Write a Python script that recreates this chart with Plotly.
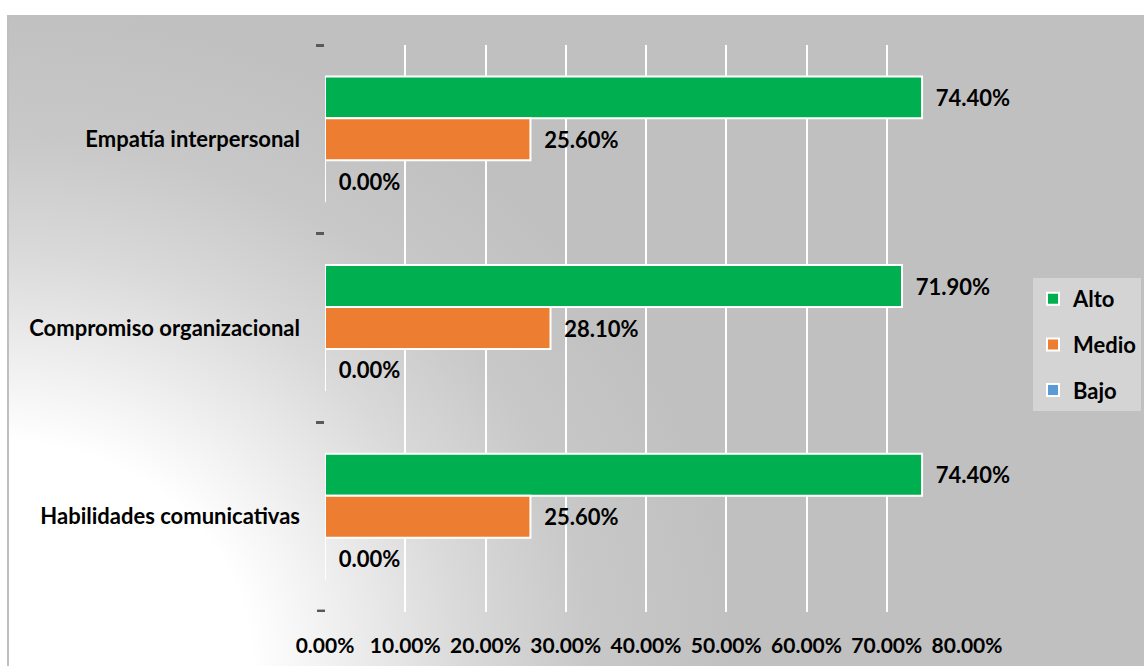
import base64
import plotly.graph_objects as go

# Dimension categories (top to bottom) and level percentages
categories = ["Empatía interpersonal", "Compromiso organizacional", "Habilidades comunicativas"]
alto = [74.40, 71.90, 74.40]
medio = [25.60, 28.10, 25.60]
bajo = [0.00, 0.00, 0.00]
x_ticks = [0, 10, 20, 30, 40, 50, 60, 70, 80]

series = [("Alto", alto, "#00B050"), ("Medio", medio, "#ED7D31"), ("Bajo", bajo, "#5B9BD5")]

W, H = 1144, 666
ML, MR, MT, MB = 325, 177, 45, 54
PW, PH = W - ML - MR, H - MT - MB

FONT = "Lato"
FS = 22
TICK_COLOR = "#595959"

fig = go.Figure()
for name, vals, color in series:
    fig.add_trace(go.Bar(
        y=categories,
        x=vals,
        name=name,
        orientation="h",
        legendgroup=name,
        marker=dict(color=color, line=dict(color="white", width=2)),
        text=["\u00a0\u00a0" + f"{v:.2f}%" for v in vals],
        textposition="outside",
        textfont=dict(family=FONT, size=FS, color="black", weight="bold"),
        cliponaxis=False,
        hoverinfo="skip",
    ))

# Chart area background: soft radial fade from the lower-left corner
bg_w, bg_h = W - 7, H - 15
svg = f"""<svg xmlns="http://www.w3.org/2000/svg" width="{bg_w}" height="{bg_h}" viewBox="0 0 {bg_w} {bg_h}">
<defs>
<radialGradient id="g" gradientUnits="userSpaceOnUse" cx="0" cy="0" r="660"
 gradientTransform="translate(-7,{bg_h}) scale(1.12,1)">
<stop offset="0" stop-color="#FFFFFF"/>
<stop offset="0.34" stop-color="#FFFFFF"/>
<stop offset="0.5" stop-color="#EAEAEA"/>
<stop offset="0.63" stop-color="#D9D9D9"/>
<stop offset="0.8" stop-color="#C8C8C8"/>
<stop offset="1" stop-color="#C0C0C0"/>
</radialGradient>
</defs>
<rect x="1" y="1" width="{bg_w + 4}" height="{bg_h + 4}" fill="url(#g)" stroke="#BFBFBF" stroke-width="2"/>
</svg>"""
src = "data:image/svg+xml;base64," + base64.b64encode(svg.encode()).decode()

fig.add_layout_image(dict(
    source=src,
    xref="paper", yref="paper",
    x=(7 - ML) / PW, y=(H - MB - 15) / PH,
    sizex=bg_w / PW, sizey=bg_h / PH,
    xanchor="left", yanchor="top",
    sizing="stretch", layer="below",
))

# Closing category-boundary tick below the last group
fig.add_shape(
    type="line", xref="paper", yref="y",
    x0=-8 / PW, x1=0, y0=len(categories) - 0.5, y1=len(categories) - 0.5,
    line=dict(color=TICK_COLOR, width=3),
)

fig.update_layout(
    width=W, height=H,
    margin=dict(l=ML, r=MR, t=MT, b=MB, pad=0, autoexpand=False),
    paper_bgcolor="white",
    plot_bgcolor="rgba(0,0,0,0)",
    barmode="group",
    bargap=0.333,
    bargroupgap=0,
    showlegend=True,
    legend=dict(
        xref="container", yref="container",
        x=1141 / W, y=1 - 278 / H,
        xanchor="right", yanchor="top",
        bgcolor="#D4D4D4",
        traceorder="grouped",
        tracegroupgap=14,
        font=dict(family=FONT, size=FS, color="black", weight="bold"),
        itemwidth=30,
    ),
    xaxis=dict(
        range=[0, 80],
        tickvals=x_ticks,
        ticktext=[f"{v:.2f}%" for v in x_ticks],
        showgrid=True, gridcolor="white", gridwidth=2,
        zeroline=True, zerolinecolor="rgba(0,0,0,0)",
        showline=False, ticks="",
        ticklabelstandoff=19,
        automargin=False,
        tickfont=dict(family=FONT, size=21, color="black", weight="bold"),
    ),
    yaxis=dict(
        range=[2.505, -0.5],
        tickson="boundaries",
        ticks="outside", ticklen=8, tickwidth=3, tickcolor=TICK_COLOR,
        showgrid=False, showline=False, zeroline=False,
        ticklabelstandoff=24,
        automargin=False,
        tickfont=dict(family=FONT, size=FS, color="black", weight="bold"),
    ),
)

fig.write_html("out.html")
